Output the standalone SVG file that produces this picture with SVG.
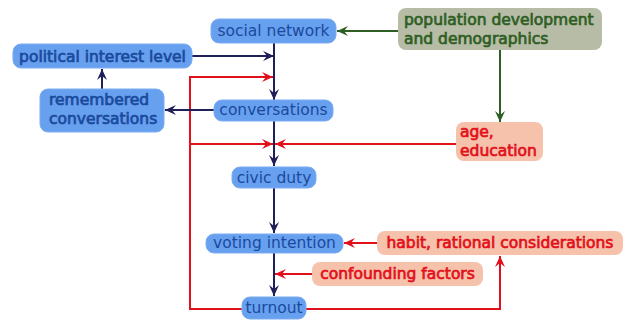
<svg xmlns="http://www.w3.org/2000/svg" width="625" height="320" viewBox="0 0 625 320">
<style>
.b rect{fill:#68a0f0;stroke:#7aabf2;stroke-width:1}
.b text{fill:#1a4a9c;stroke:#1a4a9c}
.g rect{fill:#b6bca6}
.g text{fill:#2e5e24;stroke:#2e5e24}
.r rect{fill:#f7c2ac}
.r text{fill:#e2101a;stroke:#e2101a}
text{font-family:"DejaVu Sans",sans-serif;font-size:15.5px;stroke-width:0}
text.bd{stroke-width:0.7px}
.n{fill:none;stroke:#1f1f5a;stroke-width:2}
.rd{fill:none;stroke:#e2101a;stroke-width:2}
.gr{fill:none;stroke:#2e5e24;stroke-width:2}
</style>
<defs>
<marker id="an" markerUnits="userSpaceOnUse" markerWidth="14" markerHeight="12" viewBox="-12 -6 14 12" refX="0" refY="0" orient="auto"><path d="M0,0 L-11,-5 L-7,0 L-11,5 Z" fill="#1f1f5a"/></marker>
<marker id="ar" markerUnits="userSpaceOnUse" markerWidth="14" markerHeight="12" viewBox="-12 -6 14 12" refX="0" refY="0" orient="auto"><path d="M0,0 L-11,-5 L-7,0 L-11,5 Z" fill="#e2101a"/></marker>
<marker id="ag" markerUnits="userSpaceOnUse" markerWidth="14" markerHeight="12" viewBox="-12 -6 14 12" refX="0" refY="0" orient="auto"><path d="M0,0 L-11,-5 L-7,0 L-11,5 Z" fill="#2e5e24"/></marker>
</defs>
<g id="connectors">
<path class="n" d="M274,43 V100" marker-end="url(#an)"/>
<path class="n" d="M192,56 H274" marker-end="url(#an)"/>
<path class="rd" d="M242,309 H190 V77 H273" marker-end="url(#ar)"/>
<path class="rd" d="M190,144 H273" marker-end="url(#ar)"/>
<path class="n" d="M214,110 H165" marker-end="url(#an)"/>
<path class="n" d="M102,89 V69" marker-end="url(#an)"/>
<path class="n" d="M274,121 V166" marker-end="url(#an)"/>
<path class="rd" d="M456,144 H275" marker-end="url(#ar)"/>
<path class="n" d="M274,188 V233" marker-end="url(#an)"/>
<path class="n" d="M274,253 V296" marker-end="url(#an)"/>
<path class="rd" d="M377,243 H344" marker-end="url(#ar)"/>
<path class="rd" d="M312,274 H275" marker-end="url(#ar)"/>
<path class="rd" d="M306,309 H500 V256" marker-end="url(#ar)"/>
<path class="gr" d="M398,31 H337" marker-end="url(#ag)"/>
<path class="gr" d="M500,50 V122" marker-end="url(#ag)"/>
</g>
<g id="social-network" class="b"><rect x="211" y="19" width="125" height="24" rx="8"/><text x="273.5" y="36" text-anchor="middle">social network</text></g>
<g id="political-interest" class="b"><rect x="13" y="44" width="179" height="24" rx="8"/><text class="bd" x="102.5" y="62" text-anchor="middle">political interest level</text></g>
<g id="remembered" class="b"><rect x="40" y="89" width="124" height="43" rx="8"/><text class="bd" x="49" y="105">remembered</text><text class="bd" x="49" y="124">conversations</text></g>
<g id="conversations" class="b"><rect x="214" y="100" width="119" height="21" rx="8"/><text x="273.5" y="115" text-anchor="middle">conversations</text></g>
<g id="civic-duty" class="b"><rect x="232" y="167" width="84" height="21" rx="8"/><text x="274" y="183" text-anchor="middle">civic duty</text></g>
<g id="voting-intention" class="b"><rect x="206" y="234" width="137" height="19" rx="8"/><text x="274.5" y="248" text-anchor="middle">voting intention</text></g>
<g id="turnout" class="b"><rect x="242" y="297" width="64" height="22" rx="8"/><text x="274" y="313" text-anchor="middle">turnout</text></g>
<g id="population" class="g"><rect x="398" y="8" width="204" height="42" rx="8"/><text class="bd" x="404" y="25">population development</text><text class="bd" x="404" y="44">and demographics</text></g>
<g id="age-education" class="r"><rect x="456" y="122" width="87" height="39" rx="8"/><text class="bd" x="460" y="137">age,</text><text class="bd" x="460" y="156">education</text></g>
<g id="habit" class="r"><rect x="377" y="231" width="246" height="24" rx="8"/><text class="bd" x="500" y="248" text-anchor="middle">habit, rational considerations</text></g>
<g id="confounding" class="r"><rect x="312" y="262" width="171" height="24" rx="8"/><text class="bd" x="397.5" y="279" text-anchor="middle">confounding factors</text></g>
</svg>
